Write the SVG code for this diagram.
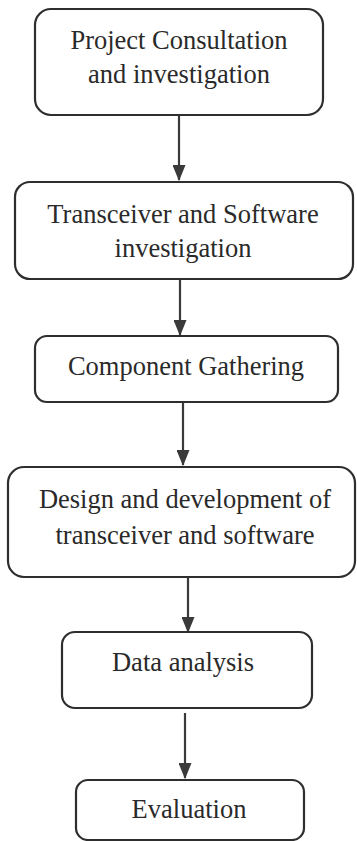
<svg xmlns="http://www.w3.org/2000/svg" width="357" height="841" viewBox="0 0 357 841">
  <style>
    .box { fill: #ffffff; stroke: #2e2e2e; stroke-width: 2.2; }
    .label { font-family: "Liberation Serif", "Times New Roman", serif; font-size: 26.5px; fill: #2a2a2a; text-anchor: middle; }
    .flow { stroke: #3a3a3a; stroke-width: 2.2; fill: none; marker-end: url(#head); }
  </style>
  <defs>
    <marker id="head" markerWidth="16" markerHeight="13" refX="15" refY="6.5" orient="auto" markerUnits="userSpaceOnUse" viewBox="0 0 16 13">
      <path d="M0,0 L16,6.5 L0,13 Z" fill="#3a3a3a"/>
    </marker>
  </defs>
  <rect width="357" height="841" fill="#ffffff"/>

  <g id="connectors">
    <line class="flow" x1="179" y1="116" x2="179" y2="180"/>
    <line class="flow" x1="180" y1="279" x2="180" y2="335"/>
    <line class="flow" x1="183" y1="402" x2="183" y2="465"/>
    <line class="flow" x1="188" y1="577" x2="188" y2="632"/>
    <line class="flow" x1="185" y1="713" x2="185" y2="778"/>
  </g>

  <g id="project-consultation">
    <rect class="box" x="35" y="9" width="288" height="106" rx="16"/>
    <text class="label" x="179" y="49">Project Consultation</text>
    <text class="label" x="179" y="83">and investigation</text>
  </g>

  <g id="transceiver-software">
    <rect class="box" x="15" y="182" width="338" height="97" rx="15"/>
    <text class="label" x="183" y="223">Transceiver and Software</text>
    <text class="label" x="183" y="257">investigation</text>
  </g>

  <g id="component-gathering">
    <rect class="box" x="35" y="336" width="303" height="66" rx="12"/>
    <text class="label" x="186" y="375">Component Gathering</text>
  </g>

  <g id="design-development">
    <rect class="box" x="8" y="467" width="347" height="110" rx="16"/>
    <text class="label" x="185" y="508">Design and development of</text>
    <text class="label" x="185" y="544">transceiver and software</text>
  </g>

  <g id="data-analysis">
    <rect class="box" x="62" y="632" width="250" height="76" rx="13"/>
    <text class="label" x="183" y="671">Data analysis</text>
  </g>

  <g id="evaluation">
    <rect class="box" x="76" y="780" width="228" height="60" rx="12"/>
    <text class="label" x="189" y="818">Evaluation</text>
  </g>
</svg>
